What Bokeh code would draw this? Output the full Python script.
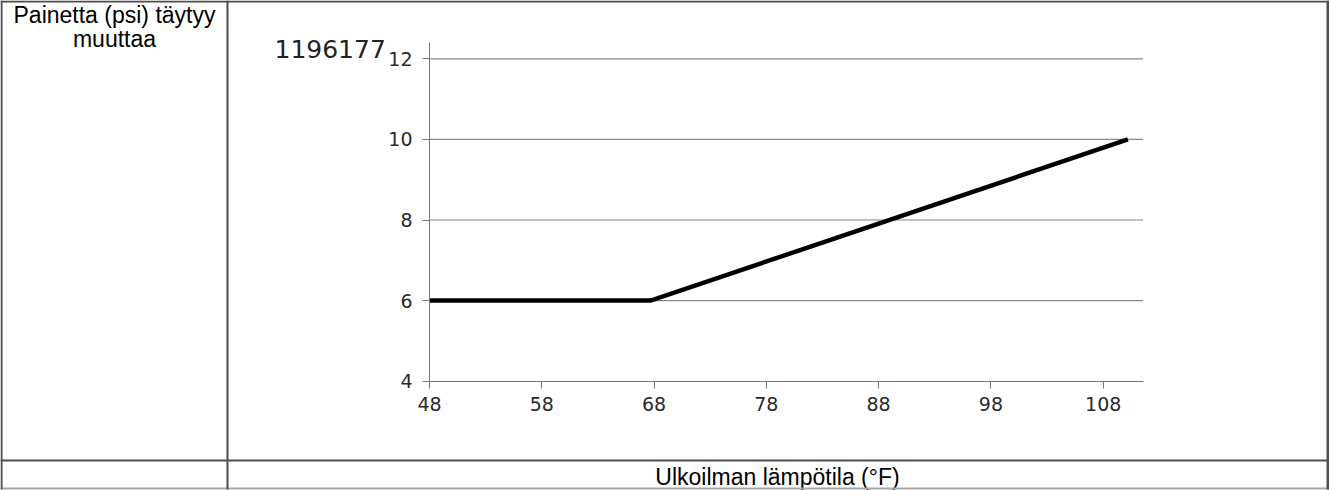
from bokeh.plotting import figure
from bokeh.models import FixedTicker, Label, BoxAnnotation, Range1d
from bokeh.embed import file_html
from bokeh.resources import INLINE

# ---- data ----
temp_f = [48, 67.7, 110.2]
pressure_psi = [6, 6, 10]
x_ticks = [48, 58, 68, 78, 88, 98, 108]
y_ticks = [4, 6, 8, 10, 12]
x_extent = [48, 111.55]
y_extent = [4, 12.4]
row_header = ["Painetta (psi) täytyy", "muuttaa"]
x_title = "Ulkoilman lämpötila (°F)"
figure_id = "1196177"

# ---- layout (page pixels) ----
W, H = 1329, 490
PX48, PX_PER_F = 429, 11.228      # x pixel of 48 °F, pixels per °F
PY4, PY_PER_PSI = 380.7, 40.3     # y pixel of 4 psi, pixels per psi


def dx(px):
    return x_ticks[0] + (px - PX48) / PX_PER_F


def dy(py):
    return y_ticks[0] + (PY4 - py) / PY_PER_PSI


p = figure(width=W, height=H, output_backend="svg", toolbar_location=None,
           x_range=Range1d(dx(0), dx(W)), y_range=Range1d(dy(H), dy(0)),
           min_border=0)
p.min_border_left = p.min_border_right = p.min_border_top = p.min_border_bottom = 0
p.outline_line_color = None
p.background_fill_color = "white"
p.border_fill_color = "white"
p.grid.visible = False

for ax, ticks, bounds, loc in ((p.xaxis[0], x_ticks, x_extent, y_ticks[0]),
                               (p.yaxis[0], y_ticks, y_extent, x_ticks[0])):
    ax.ticker = FixedTicker(ticks=ticks)
    ax.bounds = tuple(bounds)
    ax.fixed_location = loc
    ax.minor_tick_line_color = None
    ax.axis_line_color = "#777777"
    ax.major_tick_line_color = "#777777"
    ax.major_tick_out = 7
    ax.major_tick_in = 0
    ax.major_label_text_font = "DejaVu Sans"
    ax.major_label_text_font_size = "19px"
    ax.major_label_text_color = "#2a2a2a"
p.xaxis.major_label_standoff = 9
p.yaxis.major_label_standoff = 10

# horizontal grid lines (above the x axis)
grid_vals = y_ticks[1:]
p.segment(x0=[x_extent[0]] * len(grid_vals), x1=[x_extent[1]] * len(grid_vals),
          y0=grid_vals, y1=grid_vals, line_color="#888888", line_width=1.2)

p.line(temp_f, pressure_psi, line_width=4.5, line_color="black",
       line_join="miter", line_cap="butt")

# figure id next to the top tick
p.add_layout(Label(x=dx(274), y=dy(48), text=figure_id, text_align="left",
                   text_baseline="alphabetic", text_font="DejaVu Sans",
                   text_font_size="25px", text_color="#222222"))

# ---- table borders ----
dark = "#4d4d4d"
light = "#a8a8a8"
lines = [
    (0, W, 0, 2, dark),          # top
    (0, W, 459, 461, dark),      # row divider
    (0, W, 487, 489, light),     # bottom
    (0, 2, 0, 489, dark),        # left
    (226, 228, 0, 489, dark),    # column divider
    (1326, 1329, 0, 489, dark),  # right
]
for l, r, t, b, c in lines:
    p.add_layout(BoxAnnotation(left=dx(l), right=dx(r), top=dy(t), bottom=dy(b),
                               fill_color=c, fill_alpha=1, line_color=None,
                               level="overlay"))

# ---- table texts ----
for i, txt in enumerate(row_header):
    p.add_layout(Label(x=dx(114), y=dy(14 + 24.3 * i), text=txt,
                       text_align="center", text_baseline="alphabetic",
                       text_font="Liberation Sans", text_font_size="23px",
                       text_color="black"))
p.add_layout(Label(x=dx(777), y=dy(476), text=x_title, text_align="center",
                   text_baseline="alphabetic", text_font="Liberation Sans",
                   text_font_size="23px", text_color="black"))

open("out.html", "w").write(file_html(p, INLINE))
